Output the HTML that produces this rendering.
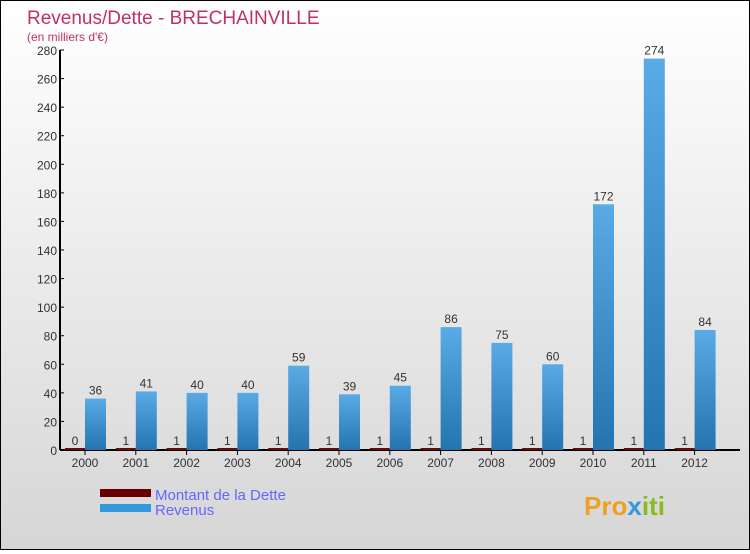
<!DOCTYPE html>
<html><head><meta charset="utf-8"><style>
body{margin:0}
#c{width:748px;height:548px;border:1px solid #000;background:linear-gradient(#fff,#d6d6d6);position:relative;font-family:"Liberation Sans",sans-serif}
</style></head><body>
<div id="c">
<svg id="s" width="748" height="548">
<defs>
<linearGradient id="gb" x1="0" y1="0" x2="0" y2="1"><stop offset="0" stop-color="#5aaae6"/><stop offset="1" stop-color="#2474b0"/></linearGradient>
</defs>
<text x="26" y="23" font-size="19" fill="#c0306a">Revenus/Dette - BRECHAINVILLE</text>
<text x="26" y="40" font-size="12" fill="#c0306a">(en milliers d'€)</text>
<rect x="99" y="488" width="51" height="8" fill="#660000"/>
<rect x="99" y="503" width="51" height="8" fill="#3399dd"/>
<text x="154" y="499" font-size="15" fill="#6666ff">Montant de la Dette</text>
<text x="154" y="514" font-size="15" fill="#6666ff">Revenus</text>
<text x="583" y="514" font-size="26" font-weight="bold"><tspan fill="#f0a020">Pro</tspan><tspan fill="#3399dd">x</tspan><tspan fill="#88bb22">iti</tspan></text>
<g id="g"></g>
</svg>
</div>
<script>
const years=["2000","2001","2002","2003","2004","2005","2006","2007","2008","2009","2010","2011","2012"];
const dette=[0,1,1,1,1,1,1,1,1,1,1,1,1];
const revenus=[36,41,40,40,59,39,45,86,75,60,172,274,84];
const ticks=[0,20,40,60,80,100,120,140,160,180,200,220,240,260,280];
const NS="http://www.w3.org/2000/svg";
const g=document.getElementById('g');
const y=v=>449-v*400/280;
const xc=i=>84+i*50.8;
function mk(t,a,txt){const e=document.createElementNS(NS,t);for(const k in a)e.setAttribute(k,a[k]);if(txt!==undefined)e.textContent=txt;g.appendChild(e);return e;}
let ax=mk('line',{x1:59,y1:49,x2:59,y2:449,stroke:'#000','stroke-width':2});


let xa=mk('line',{x1:59,y1:449,x2:739,y2:449,stroke:'#000','stroke-width':2});


ticks.forEach(t=>{
 let l=mk('line',{x1:59,y1:y(t),x2:63,y2:y(t),stroke:'#000'});
 
 
 let tx=mk('text',{x:56,y:y(t)+5,'font-size':12,fill:'#333','text-anchor':'end'},t);
 
 
});
years.forEach((yr,i)=>{
 const c=xc(i);
 let tk=mk('line',{x1:c,y1:449,x2:c,y2:454,stroke:'#000'});
 
 
 let lb=mk('text',{x:c,y:466,'font-size':12,fill:'#333','text-anchor':'middle'},yr);
 
 
 const hd=Math.max(dette[i]*400/280,2);
 let bd=mk('rect',{x:c-20,y:449-hd,width:20,height:hd,fill:'#6b0a0a'});
 
 
 let vd=mk('text',{x:c-10,y:449-hd-3,'font-size':12,fill:'#333','text-anchor':'middle'},dette[i]);
 
 
 let br=mk('rect',{x:c,y:y(revenus[i]),width:21,height:449-y(revenus[i]),fill:'url(#gb)'});
 
 
 let vr=mk('text',{x:c+10.5,y:y(revenus[i])-4,'font-size':12,fill:'#333','text-anchor':'middle'},revenus[i]);
 
 
});
</script>
</body></html>
